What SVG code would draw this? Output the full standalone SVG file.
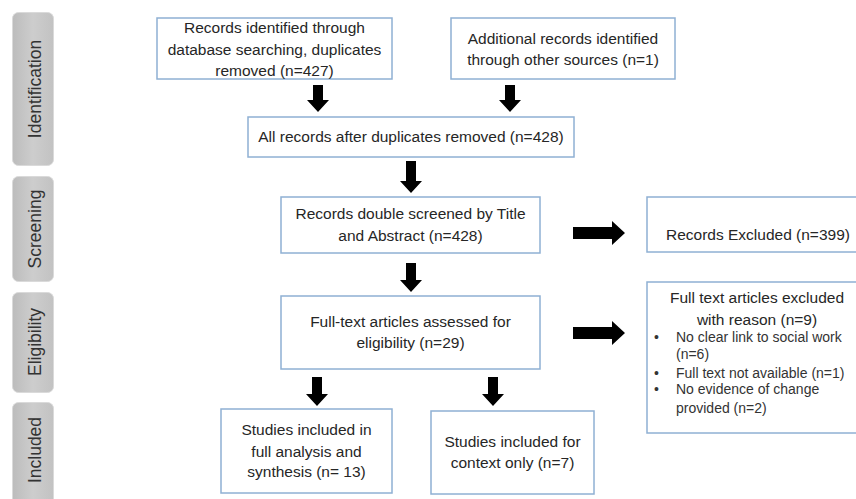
<svg xmlns="http://www.w3.org/2000/svg" width="856" height="499" viewBox="0 0 856 499">
<defs>
<linearGradient id="tabg" x1="0" y1="0" x2="1" y2="0">
<stop offset="0" stop-color="#bcbcbc"/>
<stop offset="0.5" stop-color="#cdcdcd"/>
<stop offset="1" stop-color="#c2c2c2"/>
</linearGradient>
<style>
.tab{fill:url(#tabg);stroke:#dadada;stroke-width:1}
.tabt{font-family:"Liberation Sans",Arial,sans-serif;font-size:17.5px;fill:#333;text-anchor:middle}
.box{fill:#fff;stroke:#8fb0d3;stroke-width:1.5}
.t{font-family:"Liberation Sans",Arial,sans-serif;font-size:15.5px;fill:#262626;text-anchor:middle}
.ts{font-family:"Liberation Sans",Arial,sans-serif;font-size:14px;fill:#333}
.arr{fill:#000}
</style>
</defs>
<rect width="856" height="499" fill="#fff"/>
<g id="tab-identification"><rect class="tab" x="12.5" y="12.5" width="41" height="153" rx="6"/><text class="tabt" transform="translate(41,89) rotate(-90)">Identification</text></g>
<g id="tab-screening"><rect class="tab" x="12.5" y="176.5" width="41" height="105" rx="6"/><text class="tabt" transform="translate(41,229) rotate(-90)">Screening</text></g>
<g id="tab-eligibility"><rect class="tab" x="12.5" y="292.5" width="41" height="100" rx="6"/><text class="tabt" transform="translate(41,342) rotate(-90)">Eligibility</text></g>
<g id="tab-included"><rect class="tab" x="12.5" y="402.5" width="41" height="104" rx="6"/><text class="tabt" transform="translate(41,450) rotate(-90)">Included</text></g>

<g id="connectors">
<path class="arr" d="M313 85H323V100H329L318 112L307 100H313Z"/>
<path class="arr" d="M505 85H515V100H521L510 112L499 100H505Z"/>
<path class="arr" d="M406 161H416V181H422L411 193L400 181H406Z"/>
<path class="arr" d="M406 263H416V280H422L411 292L400 280H406Z"/>
<path class="arr" d="M312 377H322V394H328L317 406L306 394H312Z"/>
<path class="arr" d="M488 377H498V394H504L493 406L482 394H488Z"/>
<path class="arr" d="M573 227H612V221L625 233L612 245V239H573Z"/>
<path class="arr" d="M573 327H612V321L625 333L612 345V339H573Z"/>
</g>

<g id="n-db"><rect class="box" x="157" y="18" width="235" height="61"/>
<text class="t" x="274.5" y="33">Records identified through</text>
<text class="t" x="274.5" y="54.5">database searching, duplicates</text>
<text class="t" x="274.5" y="76">removed (n=427)</text></g>
<g id="n-other"><rect class="box" x="451" y="18" width="224" height="61"/>
<text class="t" x="563" y="44">Additional records identified</text>
<text class="t" x="563" y="65">through other sources (n=1)</text></g>
<g id="n-all"><rect class="box" x="248" y="117" width="326" height="40"/>
<text class="t" x="411" y="142">All records after duplicates removed (n=428)</text></g>
<g id="n-screen"><rect class="box" x="281" y="197" width="259" height="56"/>
<text class="t" x="410.5" y="219">Records double screened by Title</text>
<text class="t" x="410.5" y="241">and Abstract (n=428)</text></g>
<g id="n-excl"><rect class="box" x="647" y="197" width="215" height="55"/>
<text class="t" x="666" y="240" style="text-anchor:start">Records Excluded (n=399)</text></g>
<g id="n-full"><rect class="box" x="281" y="296" width="259" height="73"/>
<text class="t" x="410.5" y="327">Full-text articles assessed for</text>
<text class="t" x="410.5" y="348">eligibility (n=29)</text></g>
<g id="n-fullexcl"><rect class="box" x="647" y="282" width="215" height="151"/>
<text class="t" x="757" y="303">Full text articles excluded</text>
<text class="t" x="757" y="325">with reason (n=9)</text>
<text class="ts" x="654" y="341.5">•</text><text class="ts" x="676" y="341.5">No clear link to social work</text>
<text class="ts" x="676" y="358.5">(n=6)</text>
<text class="ts" x="654" y="377.5">•</text><text class="ts" x="676" y="377.5">Full text not available (n=1)</text>
<text class="ts" x="654" y="393.5">•</text><text class="ts" x="676" y="393.5">No evidence of change</text>
<text class="ts" x="676" y="412.5">provided (n=2)</text></g>
<g id="n-synth"><rect class="box" x="221" y="409" width="171" height="84"/>
<text class="t" x="306.5" y="435">Studies included in</text>
<text class="t" x="306.5" y="457">full analysis and</text>
<text class="t" x="306.5" y="477">synthesis (n= 13)</text></g>
<g id="n-context"><rect class="box" x="431" y="411" width="163" height="83"/>
<text class="t" x="512.5" y="447">Studies included for</text>
<text class="t" x="512.5" y="468">context only  (n=7)</text></g>
</svg>
